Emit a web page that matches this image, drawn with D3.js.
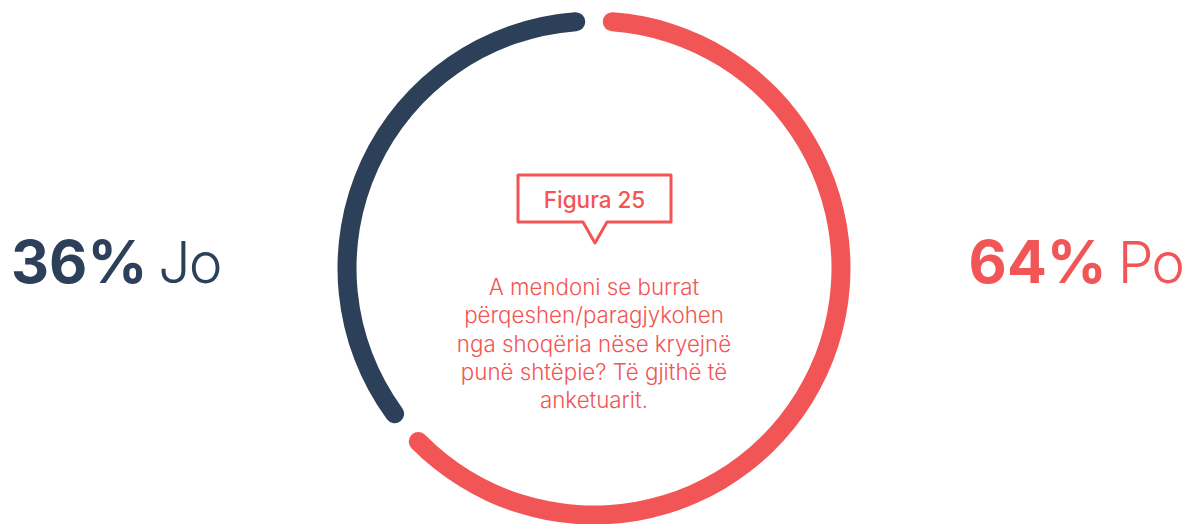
<!DOCTYPE html>
<html>
<head>
<meta charset="utf-8">
<script src="https://cdn.jsdelivr.net/npm/d3@7"></script>
<style>
  body { margin: 0; background: #fff; }
  svg { display: block; }
</style>
</head>
<body>
<div id="chart"></div>
<script>
// data
let answers = ["Po", "Jo"];
let shares = [64, 36];
let colors = ["#f25555", "#2c4059"];
let figureLabel = "Figura 25";
let questionLines = [
    "A mendoni se burrat",
    "përqeshen/paragjykohen",
    "nga shoqëria nëse kryejnë",
    "punë shtëpie? Të gjithë të",
    "anketuarit."
];

const width = 1194, height = 524;
const cx = 594, cy = 268;
const ringRadius = 247, ringWidth = 19;

let svg = d3.select("#chart").append("svg")
    .attr("width", width)
    .attr("height", height);

let ring = svg.append("g")
    .attr("transform", "translate(" + cx + "," + cy + ")");

let pie = d3.pie()
    .sort(null)
    .value(d => d)
    .padAngle(0.05);

let arc = d3.arc()
    .innerRadius(ringRadius - ringWidth / 2)
    .outerRadius(ringRadius + ringWidth / 2)
    .cornerRadius(ringWidth / 2);

ring.selectAll("path")
    .data(pie(shares))
    .enter()
    .append("path")
    .attr("d", arc)
    .attr("fill", (d, i) => colors[i]);

// big labels at the sides
let font = "Inter, 'Liberation Sans', sans-serif";

function sideLabel(i, x, anchor) {
    let t = svg.append("text")
        .attr("x", x)
        .attr("y", 283)
        .attr("text-anchor", anchor)
        .attr("font-family", font)
        .attr("font-size", 59)
        .attr("fill", colors[i]);
    t.append("tspan").attr("font-weight", 700).text(shares[i] + "%");
    t.append("tspan").attr("font-weight", 300)
        .attr("dx", 11)
        .attr("font-size", 57)
        .attr("letter-spacing", -2)
        .text(answers[i]);
}
sideLabel(1, 11, "start");
sideLabel(0, 1183, "end");

// speech bubble with figure number
let bx0 = 518, bx1 = 671, by0 = 175, by1 = 222;
let tipX = 595;
let bubble = d3.path();
bubble.moveTo(bx0, by0);
bubble.lineTo(bx1, by0);
bubble.lineTo(bx1, by1);
bubble.lineTo(tipX + 12, by1);
bubble.lineTo(tipX, by1 + 21);
bubble.lineTo(tipX - 12, by1);
bubble.lineTo(bx0, by1);
bubble.closePath();

svg.append("path")
    .attr("d", bubble.toString())
    .attr("fill", "none")
    .attr("stroke", colors[0])
    .attr("stroke-width", 3)
    .attr("stroke-linejoin", "round");

svg.append("text")
    .attr("x", (bx0 + bx1) / 2)
    .attr("y", 208)
    .attr("text-anchor", "middle")
    .attr("font-family", font)
    .attr("font-size", 22.5)
    .attr("font-weight", 500)
    .attr("fill", colors[0])
    .text(figureLabel);

// question text
svg.append("g").selectAll("text")
    .data(questionLines)
    .enter()
    .append("text")
    .attr("x", cx)
    .attr("y", (d, i) => 295 + i * 28.3)
    .attr("text-anchor", "middle")
    .attr("font-family", font)
    .attr("font-size", 22.3)
    .attr("font-weight", 300)
    .attr("fill", colors[0])
    .text(d => d);
</script>
</body>
</html>
